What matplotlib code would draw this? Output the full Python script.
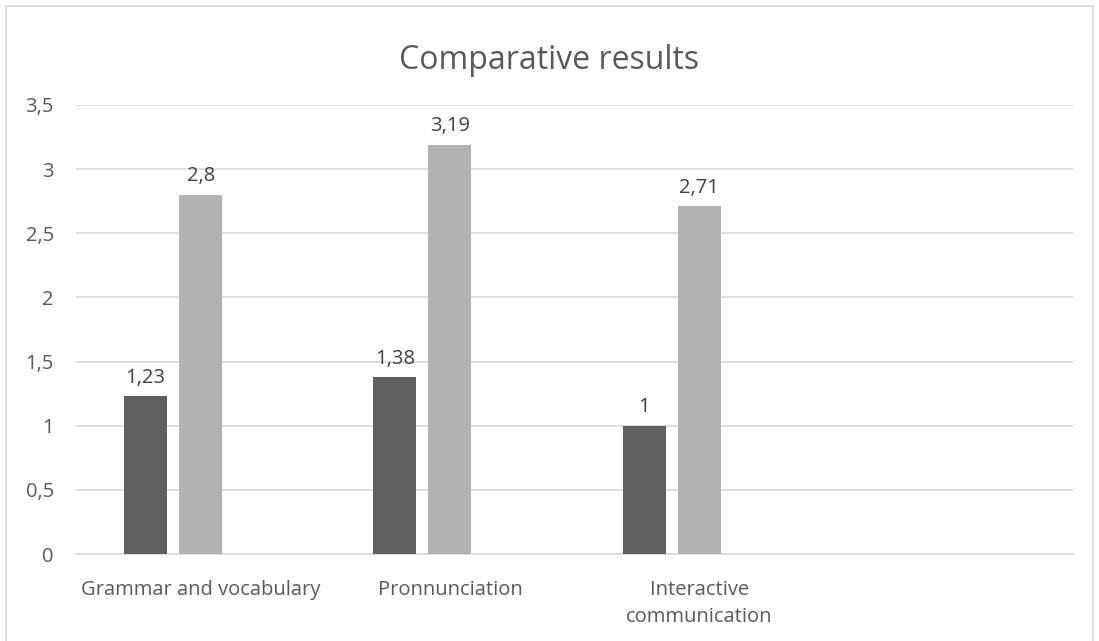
import matplotlib.pyplot as plt
import numpy as np
from matplotlib.patches import Rectangle

plt.rcParams['font.family'] = ['Open Sans', 'DejaVu Sans']

# Datos
categorias = ['Grammar and vocabulary', 'Pronnunciation', 'Interactive\ncommunication', '']
serie_1 = [1.23, 1.38, 1.0]
serie_2 = [2.8, 3.19, 2.71]
etiquetas_1 = ['1,23', '1,38', '1']
etiquetas_2 = ['2,8', '3,19', '2,71']
ticks_y = [0, 0.5, 1, 1.5, 2, 2.5, 3, 3.5]
etiquetas_y = ['0', '0,5', '1', '1,5', '2', '2,5', '3', '3,5']

GRIS_TEXTO = '#595959'

fig = plt.figure(figsize=(10.99, 6.41), dpi=100)
ax = fig.add_axes([0.0692, 0.1357, 0.9072, 0.7005])

# Marco del área del gráfico
fig.patches.append(Rectangle((0.0055, -0.01), 0.989, 1.0007, transform=fig.transFigure,
                             fill=False, edgecolor='#d9d9d9', linewidth=1.2))

x = np.arange(len(serie_1))
ancho = 0.173
sep = 0.221

b1 = ax.bar(x - sep, serie_1, width=ancho, color='#5f5f5f', zorder=3)
b2 = ax.bar(x, serie_2, width=ancho, color='#b2b2b2', zorder=3)

for barras, etiquetas in ((b1, etiquetas_1), (b2, etiquetas_2)):
    for barra, texto in zip(barras, etiquetas):
        ax.annotate(texto, (barra.get_x() + barra.get_width() / 2, barra.get_height()),
                    xytext=(0, 6), textcoords='offset points', ha='center', va='bottom',
                    fontsize=14.5, color='#404040')

ax.set_xlim(-0.5, 3.5)
ax.set_ylim(0, 3.5)
ax.set_yticks(ticks_y)
ax.set_yticklabels(etiquetas_y)
ax.set_xticks(np.arange(len(categorias)))
ax.set_xticklabels(categorias, linespacing=1.45)

ax.grid(axis='y', color='#d9d9d9', linewidth=1.2, zorder=0)
for lado in ('top', 'right', 'left'):
    ax.spines[lado].set_visible(False)
ax.spines['bottom'].set_color('#d9d9d9')
ax.spines['bottom'].set_linewidth(1.2)

ax.tick_params(axis='both', length=0, labelsize=14.5, labelcolor=GRIS_TEXTO)
ax.tick_params(axis='x', pad=19)
ax.tick_params(axis='y', pad=16)
for lbl in ax.get_yticklabels():
    lbl.set_horizontalalignment('right')

fig.text(0.5, 0.906, 'Comparative results', ha='center', va='center',
         fontsize=23, color=GRIS_TEXTO)

fig.savefig('out.png', dpi=100)
